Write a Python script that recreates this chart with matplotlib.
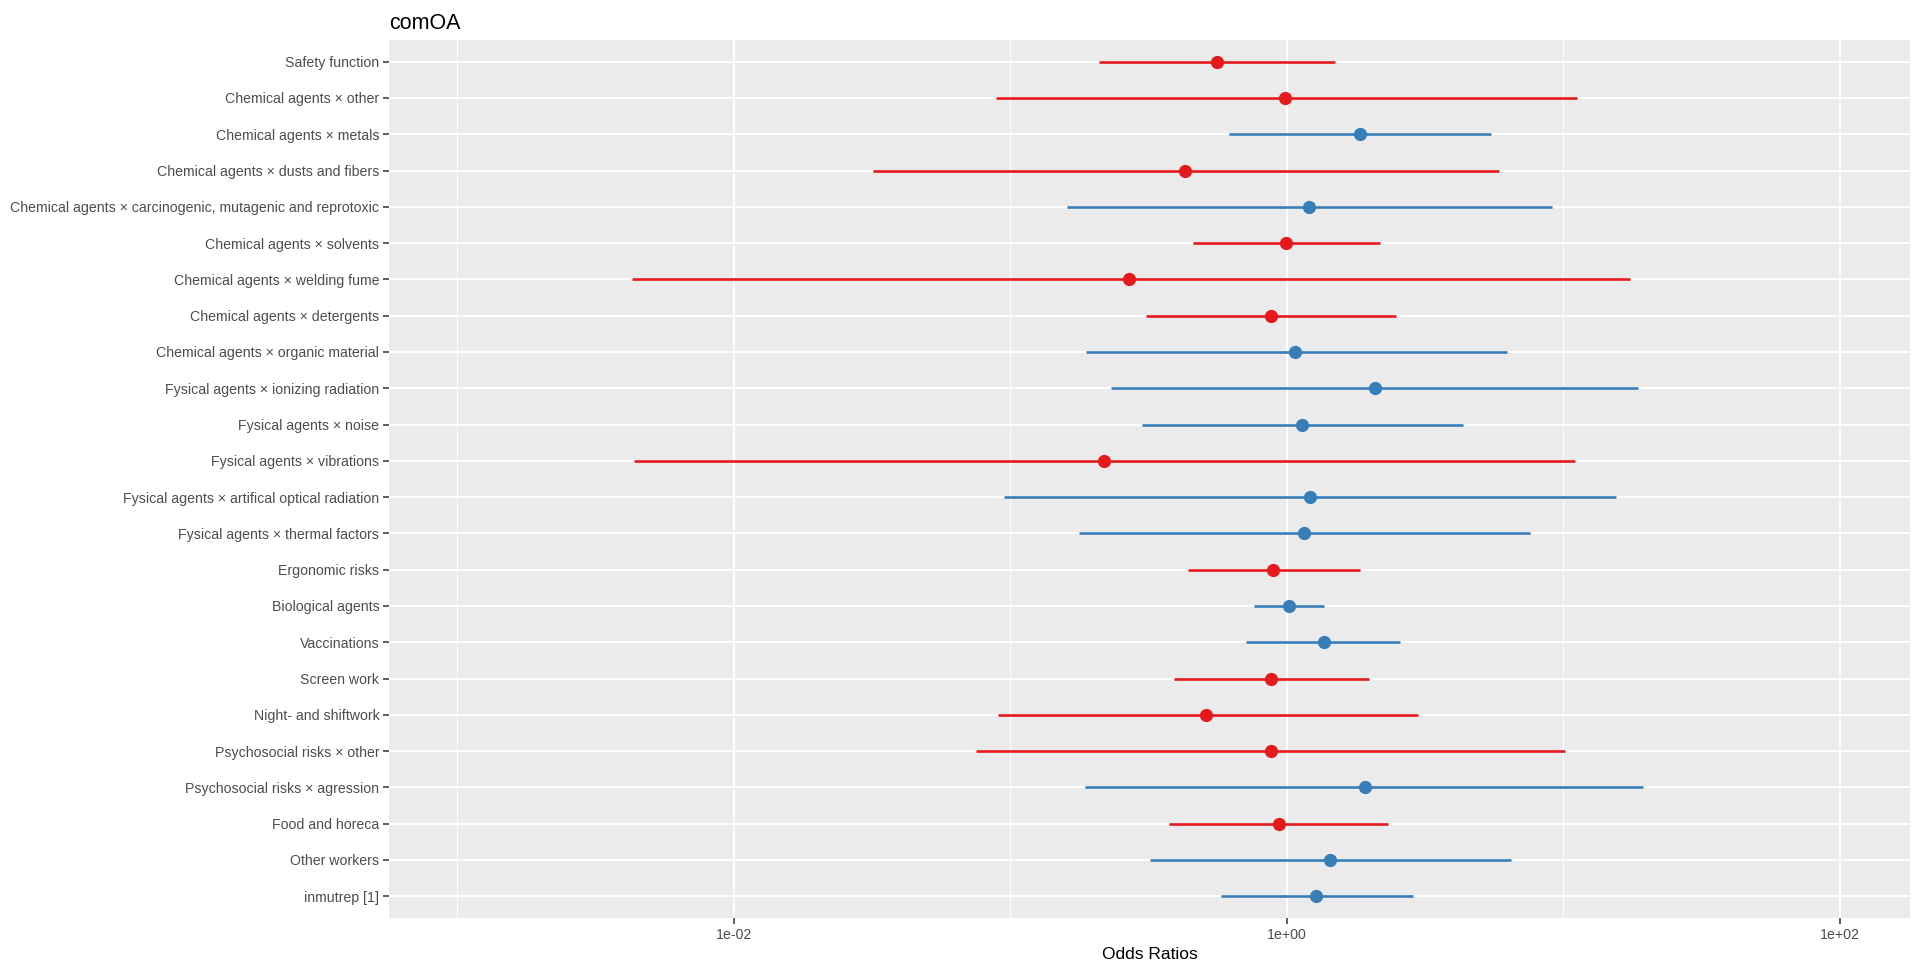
import numpy as np
import matplotlib.pyplot as plt
from matplotlib.ticker import FixedLocator, NullFormatter

plt.rcParams['font.family'] = ['Liberation Sans', 'DejaVu Sans']

# terms, top to bottom
terms = [
    "Safety function",
    "Chemical agents × other",
    "Chemical agents × metals",
    "Chemical agents × dusts and fibers",
    "Chemical agents × carcinogenic, mutagenic and reprotoxic",
    "Chemical agents × solvents",
    "Chemical agents × welding fume",
    "Chemical agents × detergents",
    "Chemical agents × organic material",
    "Fysical agents × ionizing radiation",
    "Fysical agents × noise",
    "Fysical agents × vibrations",
    "Fysical agents × artifical optical radiation",
    "Fysical agents × thermal factors",
    "Ergonomic risks",
    "Biological agents",
    "Vaccinations",
    "Screen work",
    "Night- and shiftwork",
    "Psychosocial risks × other",
    "Psychosocial risks × agression",
    "Food and horeca",
    "Other workers",
    "inmutrep [1]",
]

odds = [0.56, 0.99, 1.84, 0.43, 1.20, 0.995, 0.27, 0.875, 1.07, 2.08, 1.14, 0.219,
        1.21, 1.16, 0.89, 1.02, 1.36, 0.875, 0.51, 0.875, 1.92, 0.94, 1.44, 1.28]
ci_low = [0.21, 0.089, 0.62, 0.032, 0.16, 0.46, 0.0043, 0.31, 0.188, 0.232, 0.30, 0.00435,
          0.095, 0.178, 0.44, 0.76, 0.71, 0.39, 0.090, 0.075, 0.187, 0.376, 0.32, 0.58]
ci_high = [1.50, 11.2, 5.5, 5.85, 9.1, 2.17, 17.4, 2.48, 6.27, 18.7, 4.35, 11.0,
           15.6, 7.6, 1.84, 1.37, 2.58, 1.98, 2.98, 10.2, 19.5, 2.33, 6.5, 2.86]

red = "#E41A1C"
blue = "#377EB8"

fig = plt.figure(figsize=(19.2, 9.73), dpi=100)
ax = fig.add_axes([0.2026, 0.0565, 0.7922, 0.9025])
ax.set_facecolor("#EBEBEB")

ypos = np.arange(1, len(terms) + 1)
for y, o, lo, hi in zip(ypos, odds, ci_low, ci_high):
    c = red if o < 1 else blue
    ax.plot([lo, hi], [y, y], color=c, lw=1.9, solid_capstyle="butt", zorder=3)
    ax.plot(o, y, "o", color=c, ms=8.5, mec=c, zorder=4)

ax.set_xscale("log")
ax.set_xlim(10 ** -3.247, 10 ** 2.255)
ax.set_ylim(len(terms) + 0.6, 0.4)

ax.xaxis.set_major_locator(FixedLocator([1e-2, 1e0, 1e2]))
ax.xaxis.set_minor_locator(FixedLocator([1e-3, 1e-1, 1e1]))
ax.xaxis.set_minor_formatter(NullFormatter())
ax.set_xticklabels(["1e-02", "1e+00", "1e+02"])
ax.set_yticks(ypos)
ax.set_yticklabels(terms)

ax.grid(which="major", color="white", lw=1.4)
ax.grid(which="minor", axis="x", color="white", lw=0.7)
ax.set_axisbelow(True)
for s in ax.spines.values():
    s.set_visible(False)

ax.tick_params(which="major", length=4, width=1.1, color="#333333",
               labelcolor="#4D4D4D", labelsize=10.2, pad=3)
ax.tick_params(which="minor", length=0)

ax.set_xlabel("Odds Ratios", fontsize=12.5, color="black", labelpad=4)
ax.set_title("comOA", loc="left", fontsize=15.5, color="black", pad=8)

fig.savefig("out.png", dpi=100)
